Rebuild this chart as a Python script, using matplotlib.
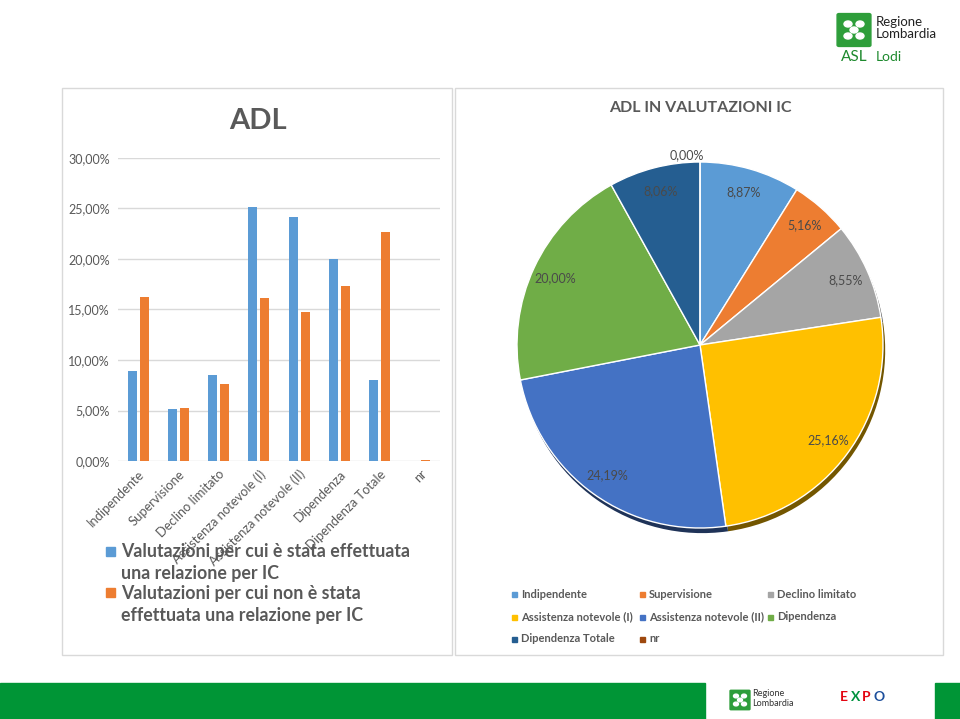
import matplotlib
matplotlib.use("Agg")
import matplotlib.pyplot as plt
from matplotlib.patches import Rectangle, FancyBboxPatch, Circle
import matplotlib.colors as mcolors
import numpy as np

plt.rcParams['font.family'] = ['Lato', 'DejaVu Sans']

categories = ["Indipendente", "Supervisione", "Declino limitato", "Assistenza notevole (I)",
              "Assistenza notevole (II)", "Dipendenza", "Dipendenza Totale", "nr"]
with_ic = [8.87, 5.16, 8.55, 25.16, 24.19, 20.00, 8.06, 0.00]
without_ic = [16.2, 5.2, 7.6, 16.1, 14.8, 17.3, 22.7, 0.05]
series_lines = [["Valutazioni per cui è stata effettuata", "una relazione per IC"],
                ["Valutazioni per cui non è stata", "effettuata una relazione per IC"]]
yticks = [0, 5, 10, 15, 20, 25, 30]
pie_colors = ["#5B9BD5", "#ED7D31", "#A5A5A5", "#FFC000", "#4472C4", "#70AD47", "#255E91", "#9E480E"]
bar_colors = ["#5B9BD5", "#ED7D31"]

W, H = 960, 719
fig = plt.figure(figsize=(9.6, 7.19), dpi=100)
fig.patch.set_facecolor("white")

def px_axes(x0, y0, x1, y1, **kw):
    return fig.add_axes([x0 / W, 1 - y1 / H, (x1 - x0) / W, (y1 - y0) / H], **kw)

def fx(x):
    return x / W

def fy(y):
    return 1 - y / H

grey = "#595959"

# panel boxes
for (x0, y0, x1, y1) in [(62, 88, 452, 655), (455, 88, 943, 655)]:
    fig.patches.append(Rectangle((fx(x0), fy(y1)), fx(x1 - x0), (y1 - y0) / H,
                                 transform=fig.transFigure, fill=False,
                                 edgecolor="#D9D9D9", linewidth=1))

# ---- bar chart ----
ax = px_axes(118, 158, 440, 461)
x = np.arange(len(categories))
bw = 0.225
ax.bar(x - 0.15, with_ic, width=bw, color=bar_colors[0], zorder=3)
ax.bar(x + 0.15, without_ic, width=bw, color=bar_colors[1], zorder=3)
ax.set_xlim(-0.5, len(categories) - 0.5)
ax.set_ylim(0, 30)
ax.set_yticks(yticks)
ax.set_yticklabels([f"{v:.2f}%".replace(".", ",") for v in yticks], color=grey, fontsize=9)
ax.set_xticks(x)
ax.set_xticklabels(categories, rotation=45, ha="right", rotation_mode="anchor",
                   color=grey, fontsize=9.3)
ax.tick_params(length=0, pad=6)
ax.tick_params(axis="x", pad=5)
ax.grid(axis="y", color="#D9D9D9", linewidth=1, zorder=0)
for s in ax.spines.values():
    s.set_visible(False)
ax.set_facecolor("none")

fig.text(fx(258), fy(121), "ADL", ha="center", va="center", fontsize=21,
         fontweight="bold", color=grey)

# left legend
sq_y = [547, 588]
line_y = [[552, 574], [593, 615]]
for i, (lines, col) in enumerate(zip(series_lines, bar_colors)):
    fig.patches.append(Rectangle((fx(106), fy(sq_y[i] + 9)), fx(9), 9 / H,
                                 transform=fig.transFigure, color=col))
    for ln, yy in zip(lines, line_y[i]):
        fig.text(fx(121), fy(yy), ln, ha="left", va="center", fontsize=12.8,
                 fontweight="bold", color=grey)

# ---- pie chart ----
cx, cy, r = 700, 345, 183
pax = px_axes(cx - r, cy - r, cx + r, cy + r)
dark = [tuple(np.array(mcolors.to_rgb(c)) * 0.45) for c in pie_colors]
sh_w, _ = pax.pie(with_ic, colors=dark, startangle=90, counterclock=False,
                  center=(0.012, -0.028), wedgeprops=dict(linewidth=0))
for w in sh_w:
    w.set_zorder(1)
wedges, _ = pax.pie(with_ic, colors=pie_colors, startangle=90, counterclock=False,
                    wedgeprops=dict(edgecolor="white", linewidth=1))
for w in wedges:
    w.set_zorder(2)
pax.set_xlim(-1, 1)
pax.set_ylim(-1, 1)
pax.set_aspect("equal")
pax.axis("off")

total = sum(with_ic)
start = 90.0
for v in with_ic:
    span = 360.0 * v / total
    mid = np.deg2rad(start - span / 2)
    dist = 0.87 if v > 0 else 1.04
    ang = mid if v > 0 else np.deg2rad(94)
    pax.text(dist * np.cos(ang), dist * np.sin(ang), f"{v:.2f}%".replace(".", ","),
             ha="center", va="center", fontsize=9, color="#4A4A4A", zorder=5)
    start -= span

fig.text(fx(700), fy(108), "ADL IN VALUTAZIONI IC", ha="center", va="center",
         fontsize=11.5, fontweight="bold", color=grey)

# pie legend
cols_x = [512, 640, 768]
rows_y = [594, 617, 639]
for i, (name, col) in enumerate(zip(categories, pie_colors)):
    rr, cc = divmod(i, 3)
    xx, yy = cols_x[cc], rows_y[rr]
    fig.patches.append(Rectangle((fx(xx), fy(yy + 2.5)), fx(5), 5 / H,
                                 transform=fig.transFigure, color=col))
    fig.text(fx(xx + 9), fy(yy), name, ha="left", va="center", fontsize=8,
             fontweight="bold", color=grey)

# ---- logos ----
fig.patches.append(FancyBboxPatch((fx(839), fy(45)), fx(30), 30 / H,
                                  boxstyle="round,pad=0.002", transform=fig.transFigure,
                                  color="#2E9E3A"))
for dx, dy in [(-6, -6), (6, -6), (-6, 6), (6, 6), (0, 0)]:
    fig.patches.append(Circle((fx(854 + dx), fy(30 + dy)), 4 / W,
                              transform=fig.transFigure, color="white"))
fig.text(fx(876), fy(22), "Regione", ha="left", va="center", fontsize=9.5, color="#222222")
fig.text(fx(876), fy(34), "Lombardia", ha="left", va="center", fontsize=9.5, color="#222222")
fig.text(fx(841), fy(57), "ASL", ha="left", va="center", fontsize=11, color="#1E8A2E")
fig.text(fx(876), fy(57), "Lodi", ha="left", va="center", fontsize=10, color="#1E8A2E")

# bottom bar
for (x0, x1) in [(0, 705), (935, 960)]:
    fig.patches.append(Rectangle((fx(x0), 0), fx(x1 - x0), 36 / H,
                                 transform=fig.transFigure, color="#009536"))
fig.patches.append(FancyBboxPatch((fx(731), fy(709)), fx(18), 18 / H,
                                  boxstyle="round,pad=0.001", transform=fig.transFigure,
                                  color="#2E9E3A"))
for dx, dy in [(-4, -4), (4, -4), (-4, 4), (4, 4), (0, 0)]:
    fig.patches.append(Circle((fx(740 + dx), fy(700 + dy)), 2.5 / W,
                              transform=fig.transFigure, color="white"))
fig.text(fx(752), fy(694), "Regione", ha="left", va="center", fontsize=6.5, color="#333333")
fig.text(fx(752), fy(704), "Lombardia", ha="left", va="center", fontsize=6.5, color="#333333")
for j, (ch, c) in enumerate(zip("EXPO", ["#E30613", "#00923F", "#E30613", "#1D4F9C"])):
    fig.text(fx(840 + j * 11), fy(697), ch, ha="left", va="center", fontsize=10,
             fontweight="bold", color=c)

fig.savefig("out.png", dpi=100, facecolor="white")
